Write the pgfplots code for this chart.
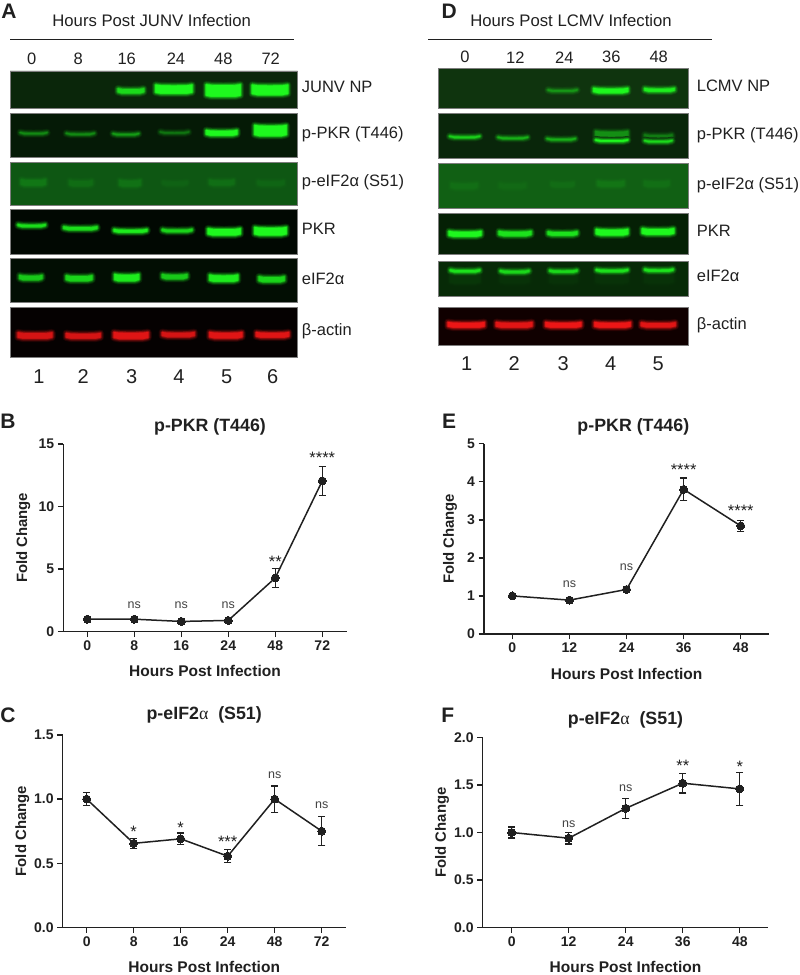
\documentclass[border=0pt]{standalone}
\usepackage{pgfplots}
\pgfplotsset{compat=1.18}
\usepackage{fontspec}
\setmainfont{Liberation Sans}
\newfontfamily\serifg{Liberation Serif}
\definecolor{ink}{RGB}{32,32,32}
\definecolor{gB}{RGB}{30,248,30}
\definecolor{rB}{RGB}{236,22,22}
\definecolor{pA1}{RGB}{10,38,10}
\definecolor{pA2}{RGB}{5,26,6}
\definecolor{pA3}{RGB}{14,87,19}
\definecolor{pA4}{RGB}{1,8,2}
\definecolor{pA5}{RGB}{2,14,3}
\definecolor{pA6}{RGB}{5,1,1}
\definecolor{pD1}{RGB}{15,52,14}
\definecolor{pD2}{RGB}{9,38,10}
\definecolor{pD3}{RGB}{17,96,20}
\definecolor{pD4}{RGB}{5,32,5}
\definecolor{pD5}{RGB}{7,42,7}
\definecolor{pD6}{RGB}{16,0,0}
\definecolor{edge}{RGB}{125,125,125}
% blot helpers (values in zoomed pixels of the reference)
\newcommand{\lay}[2]{%
  \edef\tmp{\noexpand\addplot[fill=\peak!\pct!\bg!#1!\bg,draw=\peak!\pct!\bg!#1!\bg,line width=#2pt,line join=round,line cap=round]
  coordinates {(\xa,\yt) (\xq,\ytq) (\xm,\ytm) (\xr,\ytq) (\xb,\yt) (\xb,\ybo) (\xr,\ybm) (\xm,\ybm) (\xq,\ybm) (\xa,\ybo) (\xa,\yt)};}\tmp}
\newcommand{\band}[5]{%
  \pgfmathsetmacro\xa{(#1)/3+\xo+3}\pgfmathsetmacro\xb{(#2)/3+\xo-3}\pgfmathsetmacro\xm{(\xa+\xb)/2}%
  \pgfmathsetmacro\xq{\xa+(\xb-\xa)*0.15}\pgfmathsetmacro\xr{\xb-(\xb-\xa)*0.15}%
  \pgfmathsetmacro\yc{(#3)/3}\pgfmathsetmacro\hh{max((#4)/6-1.6,0.35)}%
  \pgfmathsetmacro\yt{\yc-\hh-0.6}\pgfmathsetmacro\ytq{\yc-\hh+0.1}\pgfmathsetmacro\ytm{\yc-\hh+0.3}%
  \pgfmathsetmacro\ybo{\yc+\hh-0.8}\pgfmathsetmacro\ybm{\yc+\hh+0.3}%
  \def\pct{#5}%
  \lay{12}{7.5}\lay{28}{5.6}\lay{50}{3.8}\lay{76}{2.2}\lay{100}{0.7}}
\newcommand{\panel}[5]{\addplot[fill=#5,draw=edge,line width=0.9pt] coordinates {(#1,#3) (#2,#3) (#2,#4) (#1,#4) (#1,#3)};}
\tikzset{
  lbl/.style={font=\fontsize{16.5}{17}\selectfont,text=ink,text height=.72em,text depth=.2em,inner sep=0pt},
  hd/.style={font=\fontsize{16.7}{17}\selectfont,text=ink,inner sep=0pt,text height=.72em,text depth=.2em},
  tm/.style={font=\fontsize{16.5}{17}\selectfont,text=ink,inner sep=0pt},
  ln/.style={font=\fontsize{20}{21}\selectfont,text=ink,inner sep=0pt},
  pl/.style={font=\bfseries\fontsize{21}{22}\selectfont,text=ink,inner sep=0pt},
  nsl/.style={font=\fontsize{12.5}{12}\selectfont,text=ink!85,inner sep=0pt,anchor=base,yshift=-3.2pt},
  st/.style={font=\fontsize{16.5}{13}\selectfont,text=ink,inner sep=0pt,anchor=base,yshift=-9.6pt},
}
\pgfplotsset{
  ch/.style={scale only axis,axis lines=left,axis line style={-,line width=1.5pt,color=ink},
    tick align=outside,major tick length=5.5pt,tick style={line width=1.4pt,color=ink},
    enlargelimits=false,clip=false,
    tick label style={font=\bfseries\fontsize{14}{15}\selectfont,text=ink},
    xlabel=Hours Post Infection,ylabel=Fold Change,
    every axis y label/.style={at={(axis description cs:0,0.5)},rotate=90,anchor=center,font=\bfseries\fontsize{14.9}{15}\selectfont,text=ink},
    every axis x label/.style={at={(axis description cs:0.5,0)},anchor=center,inner sep=0pt,font=\bfseries\fontsize{15.5}{16}\selectfont,text=ink},
    every axis title/.style={at={(axis description cs:0.5,1)},anchor=center,font=\bfseries\fontsize{17.8}{18}\selectfont,text=ink},
  },
  ser/.style={color=ink,line width=1.5pt,mark=*,mark size=4pt,mark options={fill=ink,draw=ink,line width=0pt},
    error bars/.cd,y dir=both,y explicit,error bar style={line width=1.4pt,color=ink},
    error mark options={rotate=90,mark size=3.7pt,line width=1.4pt,color=ink}},
}
\begin{document}
\begin{tikzpicture}[x=1pt,y=1pt]
\useasboundingbox (0,0) rectangle (800,975);
% ------------- blots and headers
\begin{axis}[at={(0pt,0pt)},anchor=south west,scale only axis,width=800pt,height=975pt,
  xmin=0,xmax=800,ymin=0,ymax=975,y dir=reverse,hide axis,clip=false,no markers]
\addplot[color=ink,line width=1.5pt] coordinates {(10,39.5) (293.7,39.5)};
\addplot[color=ink,line width=1.5pt] coordinates {(428.3,39.5) (711.7,39.5)};
% panel A
\panel{10}{297.5}{71}{108.3}{pA1}
\panel{10}{297.5}{113}{157}{pA2}
\panel{10}{297.5}{162}{205.3}{pA3}
\panel{10}{297.5}{209.3}{254.7}{pA4}
\panel{10}{297.5}{258.3}{302.3}{pA5}
\panel{10}{297.5}{307.7}{357.7}{pA6}
\def\xo{0}\def\peak{gB}
\def\bg{pA1}
\band{345}{440}{273}{20}{85}\band{458}{585}{268}{32}{100}\band{610}{730}{272}{42}{100}\band{748}{872}{270}{36}{100}
\def\bg{pA2}
\band{52}{150}{400}{10}{50}\band{190}{292}{402}{10}{50}\band{330}{425}{403}{11}{58}\band{472}{575}{398}{8}{40}\band{610}{720}{399}{22}{100}\band{755}{868}{392}{38}{100}
\def\bg{pA3}
\band{55}{145}{548}{24}{20}\band{200}{285}{550}{22}{13}\band{350}{430}{550}{24}{16}\band{480}{570}{550}{18}{7}\band{620}{710}{548}{22}{14}\band{765}{860}{550}{20}{9}
\def\bg{pA4}
\band{45}{145}{677}{14}{90}\band{182}{300}{685}{16}{90}\band{333}{450}{693}{16}{95}\band{478}{585}{692}{15}{85}\band{615}{730}{696}{26}{100}\band{755}{868}{694}{30}{100}
\def\bg{pA5}
\band{50}{135}{833}{20}{80}\band{190}{285}{835}{22}{85}\band{335}{425}{833}{26}{95}\band{478}{570}{830}{20}{80}\band{620}{722}{835}{26}{95}\band{768}{862}{838}{22}{85}
\def\peak{rB}\def\bg{pA6}
\band{45}{165}{1007}{24}{90}\band{190}{310}{1008}{22}{90}\band{333}{453}{1007}{26}{95}\band{478}{592}{1004}{20}{90}\band{620}{735}{1006}{24}{95}\band{760}{875}{1005}{22}{95}
% panel D
\panel{438.3}{688.3}{68.7}{108.3}{pD1}
\panel{438.3}{688.3}{113.7}{158.3}{pD2}
\panel{438.3}{688.3}{163.7}{208}{pD3}
\panel{438.3}{688.3}{213}{254.3}{pD4}
\panel{438.3}{688.3}{261}{296.7}{pD5}
\panel{438.3}{688.3}{307.3}{345.3}{pD6}
\def\xo{400}\def\peak{gB}
\def\bg{pD1}
\band{435}{540}{272}{12}{50}\band{572}{692}{272}{20}{100}\band{725}{832}{270}{16}{95}
\def\bg{pD2}
\band{140}{248}{411}{9}{80}\band{285}{392}{414}{9}{65}\band{432}{535}{418}{10}{65}\band{578}{692}{404}{26}{50}\band{578}{692}{422}{12}{100}\band{725}{825}{410}{18}{40}\band{725}{825}{424}{10}{85}
\def\bg{pD3}
\band{145}{240}{558}{22}{9}\band{290}{385}{558}{20}{6}\band{445}{530}{554}{20}{8}\band{585}{680}{552}{22}{14}\band{725}{815}{552}{22}{10}
\def\bg{pD4}
\band{138}{252}{702}{22}{100}\band{288}{402}{701}{20}{90}\band{435}{540}{701}{18}{90}\band{580}{692}{697}{24}{100}\band{718}{830}{695}{24}{100}
\def\bg{pD5}
\band{142}{248}{836}{34}{6}\band{292}{396}{836}{34}{4}\band{440}{540}{836}{34}{4}\band{580}{692}{836}{34}{4}\band{725}{828}{836}{34}{4}
\band{142}{248}{813}{14}{90}\band{292}{396}{815}{14}{85}\band{440}{540}{814}{14}{85}\band{580}{692}{812}{14}{90}\band{725}{828}{811}{14}{90}
\def\peak{rB}\def\bg{pD6}
\band{135}{262}{975}{22}{100}\band{280}{405}{975}{22}{95}\band{428}{552}{975}{22}{100}\band{575}{700}{975}{22}{100}\band{715}{835}{975}{20}{95}
% texts
\node[pl] at (axis cs:9,11) {A};
\node[pl] at (axis cs:449.3,11) {D};
\node[pl] at (axis cs:8,421.7) {B};
\node[pl] at (axis cs:449,421.7) {E};
\node[pl] at (axis cs:8,715) {C};
\node[pl] at (axis cs:447.7,715) {F};
\node[hd] at (axis cs:151.7,24) {Hours Post JUNV Infection};
\node[hd] at (axis cs:571,24) {Hours Post LCMV Infection};
\node[tm] at (axis cs:31.7,59) {0};\node[tm] at (axis cs:78.3,59) {8};\node[tm] at (axis cs:126.7,59) {16};
\node[tm] at (axis cs:176,59) {24};\node[tm] at (axis cs:223.3,59) {48};\node[tm] at (axis cs:270.7,59) {72};
\node[tm] at (axis cs:465,57.3) {0};\node[tm] at (axis cs:515.3,57.3) {12};\node[tm] at (axis cs:564.3,57.3) {24};
\node[tm] at (axis cs:611.3,57.3) {36};\node[tm] at (axis cs:658.7,57.3) {48};
\node[lbl,anchor=west] at (axis cs:301.7,90) {JUNV NP};
\node[lbl,anchor=west] at (axis cs:301.7,136) {p-PKR (T446)};
\node[lbl,anchor=west] at (axis cs:301.7,184.3) {p-eIF2α (S51)};
\node[lbl,anchor=west] at (axis cs:301.7,232.3) {PKR};
\node[lbl,anchor=west] at (axis cs:301.7,281.7) {eIF2α};
\node[lbl,anchor=west] at (axis cs:301.7,333) {β-actin};
\node[lbl,anchor=west] at (axis cs:696.7,89) {LCMV NP};
\node[lbl,anchor=west] at (axis cs:696.7,136.7) {p-PKR (T446)};
\node[lbl,anchor=west] at (axis cs:696.7,186.7) {p-eIF2α (S51)};
\node[lbl,anchor=west] at (axis cs:696.7,234.3) {PKR};
\node[lbl,anchor=west] at (axis cs:696.7,279.3) {eIF2α};
\node[lbl,anchor=west] at (axis cs:696.7,327.3) {β-actin};
\node[ln] at (axis cs:39,376.7) {1};\node[ln] at (axis cs:83.3,376.7) {2};\node[ln] at (axis cs:131.7,376.7) {3};
\node[ln] at (axis cs:179,376.7) {4};\node[ln] at (axis cs:226.7,376.7) {5};\node[ln] at (axis cs:272.7,376.7) {6};
\node[ln] at (axis cs:466.7,363.3) {1};\node[ln] at (axis cs:514.3,363.3) {2};\node[ln] at (axis cs:563.3,363.3) {3};
\node[ln] at (axis cs:610.7,363.3) {4};\node[ln] at (axis cs:658.3,363.3) {5};
\end{axis}
% ------------- B
\begin{axis}[ch,at={(63.3pt,343.3pt)},anchor=south west,width=283.4pt,height=187.7pt,
  xmin=-0.51,xmax=5.52,ymin=0,ymax=15,xtick={0,1,2,3,4,5},xticklabels={0,8,16,24,48,72},ytick={0,5,10,15},yticklabels={0,5,10,15},
  title={p-PKR (T446)},title style={xshift=5pt,yshift=17.3pt},
  xlabel style={yshift=-39pt},ylabel style={yshift=40pt}]
\addplot[ser] coordinates {(0,1) +- (0,0.06) (1,1) +- (0,0.06) (2,0.82) +- (0,0.06) (3,0.9) +- (0,0.06) (4,4.3) +- (0,0.75) (5,12.05) +- (0,1.17)};
\node[nsl] at (axis cs:1,2.08) {ns};\node[nsl] at (axis cs:2,2.08) {ns};\node[nsl] at (axis cs:3,2.08) {ns};
\node[st] at (axis cs:4,5.9) {**};\node[st] at (axis cs:5,14.2) {****};
\end{axis}
% ------------- C
\begin{axis}[ch,at={(62.7pt,47.7pt)},anchor=south west,width=283pt,height=192.3pt,
  xmin=-0.51,xmax=5.51,ymin=0,ymax=1.5,xtick={0,1,2,3,4,5},xticklabels={0,8,16,24,48,72},
  ytick={0,0.5,1,1.5},yticklabels={0.0,0.5,1.0,1.5},
  title={p-eIF2{\serifg\mdseries α}\ \ (S51)},title style={xshift=0pt,yshift=20pt},
  xlabel style={yshift=-39.8pt},ylabel style={yshift=40.4pt}]
\addplot[ser] coordinates {(0,1) +- (0,0.05) (1,0.655) +- (0,0.04) (2,0.69) +- (0,0.045) (3,0.555) +- (0,0.05) (4,1) +- (0,0.103) (5,0.75) +- (0,0.112)};
\node[st] at (axis cs:1,0.777) {*};\node[st] at (axis cs:2,0.803) {*};\node[st] at (axis cs:3,0.694) {***};
\node[nsl] at (axis cs:4,1.185) {ns};\node[nsl] at (axis cs:5,0.954) {ns};
\end{axis}
% ------------- E
\begin{axis}[ch,at={(484pt,341pt)},anchor=south west,width=285.3pt,height=190.3pt,
  xmin=-0.496,xmax=4.5,ymin=0,ymax=5,xtick={0,1,2,3,4},xticklabels={0,12,24,36,48},ytick={0,1,2,3,4,5},yticklabels={0,1,2,3,4,5},
  title={p-PKR (T446)},title style={xshift=6.7pt,yshift=17pt},
  xlabel style={yshift=-40pt},ylabel style={yshift=34pt}]
\addplot[ser] coordinates {(0,1) +- (0,0.05) (1,0.89) +- (0,0.05) (2,1.17) +- (0,0.05) (3,3.8) +- (0,0.3) (4,2.84) +- (0,0.14)};
\node[nsl] at (axis cs:1,1.306) {ns};\node[nsl] at (axis cs:2,1.74) {ns};
\node[st] at (axis cs:3,4.42) {****};\node[st] at (axis cs:4,3.33) {****};
\end{axis}
% ------------- F
\begin{axis}[ch,at={(482.7pt,47.7pt)},anchor=south west,width=285.6pt,height=189.6pt,
  xmin=-0.509,xmax=4.5,ymin=0,ymax=2,xtick={0,1,2,3,4},xticklabels={0,12,24,36,48},
  ytick={0,0.5,1,1.5,2},yticklabels={0.0,0.5,1.0,1.5,2.0},
  title={p-eIF2{\serifg\mdseries α}\ \ (S51)},title style={xshift=0pt,yshift=18pt},
  xlabel style={yshift=-39.8pt},ylabel style={yshift=40.7pt}]
\addplot[ser] coordinates {(0,1) +- (0,0.06) (1,0.94) +- (0,0.063) (2,1.255) +- (0,0.105) (3,1.52) +- (0,0.103) (4,1.46) +- (0,0.175)};
\node[nsl] at (axis cs:1,1.086) {ns};\node[nsl] at (axis cs:2,1.466) {ns};
\node[st] at (axis cs:3,1.74) {**};\node[st] at (axis cs:4,1.736) {*};
\end{axis}
\end{tikzpicture}
\end{document}
